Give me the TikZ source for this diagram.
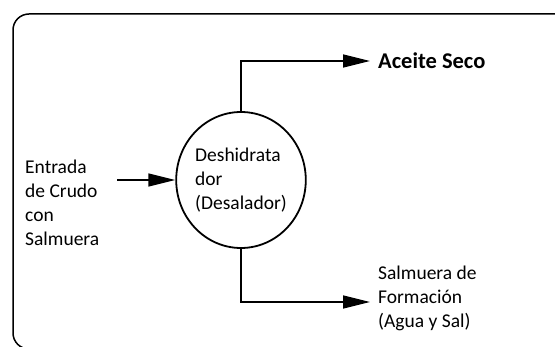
\documentclass[tikz,border=0pt]{standalone}
\usepackage{fontspec}
\setmainfont{Carlito}
\usetikzlibrary{arrows.meta,shapes.geometric}
\begin{document}
\begin{tikzpicture}[x=1pt,y=-1pt,
  lbl/.style={font=\fontsize{19.5}{24}\selectfont, align=left, inner sep=0pt},
  big/.style={font=\bfseries\fontsize{22.5}{27}\selectfont, inner sep=0pt},
  arr/.style={line width=1.4pt, -{Triangle[length=27pt,width=13pt]}},
  vessel/.style={ellipse, draw, line width=1.8pt, minimum width=122pt, minimum height=136pt}]
\useasboundingbox (0,0) rectangle (555,347);
\begin{scope}
\clip (0,0) rectangle (555,347);
\draw[line width=1.5pt, rounded corners=16pt] (13,14) rectangle (600,349);
\end{scope}
\node[vessel, lbl] (des) at (241,180) {Deshidrata\\dor\\(Desalador)};
\node[lbl, anchor=west] (inp) at (25,203) {Entrada\\de Crudo\\con\\Salmuera};
\node[big, anchor=west] (ace) at (378,61) {Aceite Seco};
\node[lbl, anchor=west] (sal) at (378,298) {Salmuera de\\Formación\\(Agua y Sal)};
\coordinate (inS) at (117,180);
\draw[arr] (inS) -- (des.west);
\draw[arr] (des.north) |- ([xshift=-8pt]ace.west);
\draw[arr] (des.south) |- ([xshift=-8pt,yshift=-4pt]sal.west);
\end{tikzpicture}
\end{document}
